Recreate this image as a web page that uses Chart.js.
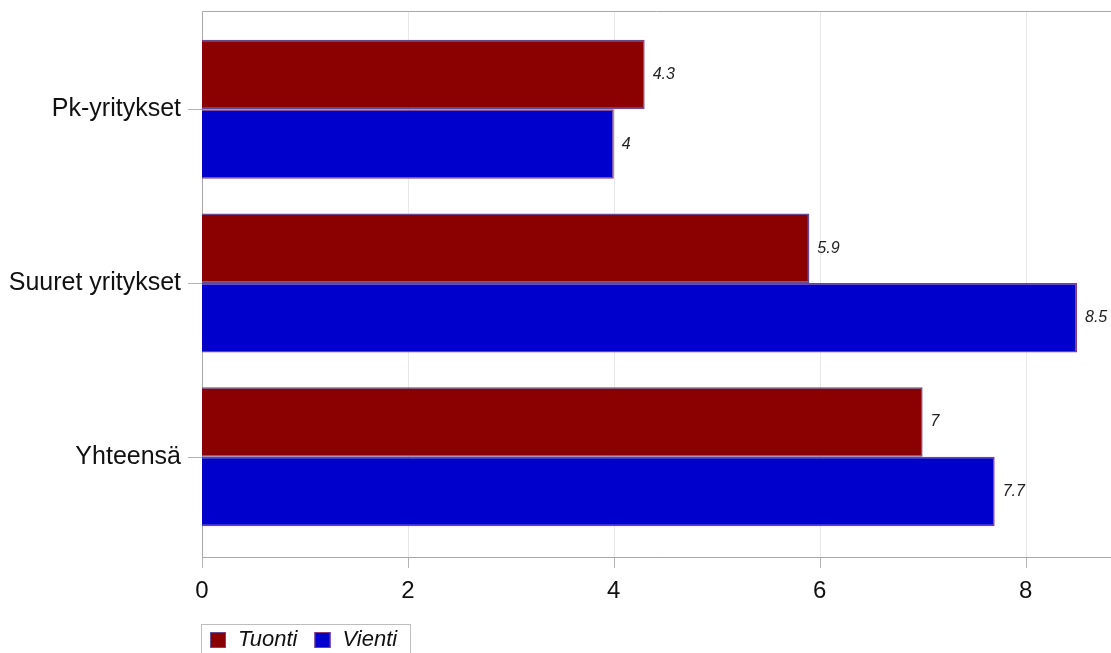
<!DOCTYPE html>
<html>
<head>
<meta charset="utf-8">
<script src="https://cdn.jsdelivr.net/npm/chart.js@4"></script>
<style>
  html, body { margin: 0; padding: 0; background: #fff; }
  #wrap { width: 1111px; height: 653px; position: relative; }
</style>
</head>
<body>
<div id="wrap"><canvas id="c"></canvas></div>
<script>
const categories = ['Pk-yritykset', 'Suuret yritykset', 'Yhteensä'];
const tuonti = [4.3, 5.9, 7];
const vienti = [4, 8.5, 7.7];
const xTicks = [0, 2, 4, 6, 8];

const FONT = '"Liberation Sans", Arial, sans-serif';
const frameTop = 11;
const frameBottom = 557;

// frame, grid lines and tick marks drawn from the scales
const framePlugin = {
  id: 'frame',
  beforeDatasetsDraw(chart) {
    const { ctx, chartArea, scales } = chart;
    const x = scales.x, y = scales.y;
    ctx.save();
    ctx.lineWidth = 1;
    ctx.strokeStyle = '#e8e8e8';
    xTicks.forEach(v => {
      if (v === 0) return;
      const px = Math.round(x.getPixelForValue(v)) + 0.5;
      ctx.beginPath(); ctx.moveTo(px, frameTop); ctx.lineTo(px, frameBottom); ctx.stroke();
    });
    ctx.strokeStyle = '#b4b4b4';
    xTicks.forEach(v => {
      const px = Math.round(x.getPixelForValue(v)) + 0.5;
      ctx.beginPath(); ctx.moveTo(px, frameBottom); ctx.lineTo(px, frameBottom + 11); ctx.stroke();
    });
    categories.forEach((c, i) => {
      const py = Math.round(y.getPixelForValue(i)) + 0.5;
      ctx.beginPath(); ctx.moveTo(chartArea.left - 14, py); ctx.lineTo(chartArea.left, py); ctx.stroke();
    });
    ctx.strokeStyle = '#a8a8a8';
    const l = Math.round(chartArea.left) + 0.5;
    ctx.beginPath();
    ctx.moveTo(chart.width, frameTop + 0.5); ctx.lineTo(l, frameTop + 0.5);
    ctx.lineTo(l, frameBottom + 0.5); ctx.lineTo(chart.width, frameBottom + 0.5);
    ctx.stroke();
    ctx.restore();
  },
  afterDatasetsDraw(chart) {
    const { ctx } = chart;
    ctx.save();
    ctx.font = 'italic 16px ' + FONT;
    ctx.fillStyle = '#222';
    ctx.textBaseline = 'middle';
    ctx.textAlign = 'left';
    chart.data.datasets.forEach((ds, di) => {
      chart.getDatasetMeta(di).data.forEach((bar, i) => {
        ctx.fillText(String(ds.data[i]), bar.x + 8, bar.y);
      });
    });
    ctx.restore();
  },
  afterDraw(chart) {
    // legend box under the plot
    const { ctx } = chart;
    ctx.save();
    ctx.strokeStyle = '#bdbdbd';
    ctx.lineWidth = 1;
    ctx.strokeRect(201.5, 624.5, 209, 40);
    ctx.font = 'italic 22px ' + FONT;
    ctx.textBaseline = 'middle';
    let cx = 210;
    chart.data.datasets.forEach(ds => {
      ctx.fillStyle = ds.backgroundColor;
      ctx.fillRect(cx, 632, 16, 16);
      ctx.strokeStyle = ds.borderColor;
      ctx.strokeRect(cx + 0.5, 632.5, 15, 15);
      ctx.fillStyle = '#111';
      ctx.fillText(ds.label, cx + 28, 640);
      cx += 28 + ctx.measureText(ds.label).width + 17;
    });
    ctx.restore();
  }
};

new Chart(document.getElementById('c'), {
  type: 'bar',
  data: {
    labels: categories,
    datasets: [
      { label: 'Tuonti', data: tuonti, backgroundColor: '#8b0000', borderColor: '#6a4a8e', borderWidth: 1.5 },
      { label: 'Vienti', data: vienti, backgroundColor: '#0000cc', borderColor: '#8e3a6e', borderWidth: 1.5 }
    ]
  },
  options: {
    indexAxis: 'y',
    responsive: true,
    maintainAspectRatio: false,
    animation: false,
    categoryPercentage: 0.8,
    barPercentage: 1,
    layout: { padding: { top: 22.5, right: 0, bottom: 0, left: 0 } },
    plugins: { legend: { display: false }, tooltip: { enabled: false } },
    scales: {
      x: {
        min: 0,
        max: 8.83,
        grid: { display: false },
        border: { display: false },
        afterFit: s => { s.height = 109.5; s.paddingLeft = 0; s.paddingRight = 0; },
        afterBuildTicks: s => { s.ticks = xTicks.map(v => ({ value: v })); },
        ticks: { padding: 25.5, color: '#111', font: { family: FONT, size: 24 } }
      },
      y: {
        grid: { display: false },
        border: { display: false },
        afterFit: s => { s.width = 202; s.paddingTop = 0; s.paddingBottom = 0; },
        ticks: { padding: 13, color: '#111', font: { family: FONT, size: 25 } }
      }
    }
  },
  plugins: [framePlugin]
});
</script>
</body>
</html>
